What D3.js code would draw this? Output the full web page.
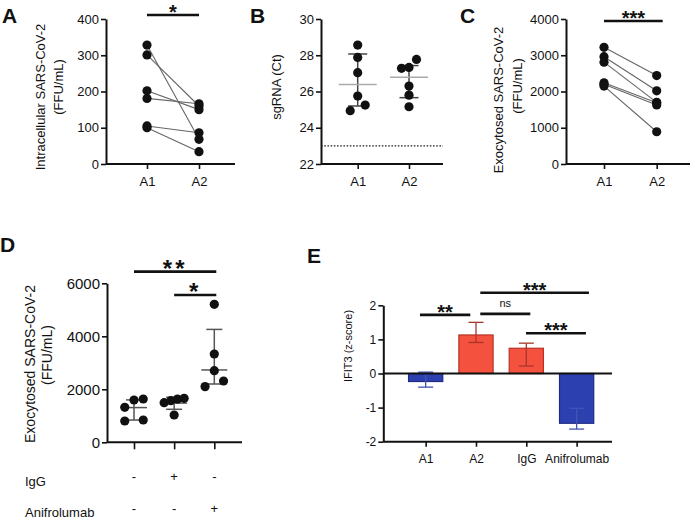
<!DOCTYPE html>
<html><head><meta charset="utf-8">
<script src="https://cdn.jsdelivr.net/npm/d3@7"></script>
<style>
body{margin:0;background:#fff}
svg{display:block}
text{font-family:"Liberation Sans",Arial,Helvetica,sans-serif;fill:#111}
</style>
</head><body>
<svg id="chart" width="693" height="519"></svg>
<script>
// ---------------- DATA ----------------
// Panel A – Intracellular SARS-CoV-2 (paired)
const aCats = ["A1", "A2"];
const aTicks = [0, 100, 200, 300, 400];
const aA1 = [328, 301, 202, 181, 105, 100];
const aA2 = [68, 160, 150, 166, 86, 34];
const aSig = [{from: "A1", to: "A2", level: 411, label: "*"}];

// Panel B – sgRNA (Ct)
const bCats = ["A1", "A2"];
const bTicks = [22, 24, 26, 28, 30];
const bA1 = [28.56, 27.88, 27.04, 25.75, 25.25, 24.94];
const bA2 = [27.77, 27.33, 27.28, 26.3, 25.8, 25.16];
const bMean = [26.38, 26.78];
const bLow = [25.2, 25.66];
const bHigh = [28.07, 27.43];
const bLimit = 23;

// Panel C – Exocytosed SARS-CoV-2 (paired)
const cCats = ["A1", "A2"];
const cTicks = [0, 1000, 2000, 3000, 4000];
const cA1 = [3220, 2960, 2810, 2240, 2200, 2150];
const cA2 = [2440, 2020, 1700, 1690, 1630, 890];
const cSig = [{from: "A1", to: "A2", level: 3945, label: "***"}];

// Panel D – Exocytosed SARS-CoV-2 with IgG / Anifrolumab
const dGroups = ["none", "IgG", "Anifrolumab"];
const dTicks = [0, 2000, 4000, 6000];
const dG1 = [1634, 1596, 1321, 842, 804];
const dG2 = [1660, 1630, 1570, 1494, 1030];
const dG3 = [5208, 3333, 2704, 2314, 2101];
const dMean = [1310, 1480, 2730];
const dLow = [840, 1245, 2200];
const dHigh = [1600, 1700, 4260];
const dIgG = ["-", "+", "-"];
const dAnif = ["-", "-", "+"];
const dSig = [
  {from: "none", to: "Anifrolumab", level: 6440, label: "**"},
  {from: "IgG", to: "Anifrolumab", level: 5560, label: "*"}
];

// Panel E – IFIT3 (z-score)
const eCats = ["A1", "A2", "IgG", "Anifrolumab"];
const eTicks = [-2, -1, 0, 1, 2];
const eMean = [-0.235, 1.13, 0.74, -1.46];
const eLow = [-0.40, 0.91, 0.22, -1.63];
const eHigh = [0.04, 1.50, 0.89, -1.02];
const eKind = ["down", "up", "up", "down"];
const eSig = [
  {from: "A1", to: "A2", level: 1.72, label: "**"},
  {from: "A2", to: "IgG", level: 1.75, label: "ns"},
  {from: "A2", to: "Anifrolumab", level: 2.37, label: "***"},
  {from: "IgG", to: "Anifrolumab", level: 1.18, label: "***"}
];

// ---------------- DRAWING ----------------
const svg = d3.select("#chart");
const FONT = '"Liberation Sans",Arial,Helvetica,sans-serif';

function styleAxis(g, fs) {
  g.selectAll(".domain").attr("stroke", "#111").attr("stroke-width", 2);
  g.selectAll(".tick line").attr("stroke", "#111").attr("stroke-width", 1.6);
  g.selectAll(".tick text").attr("font-size", fs).attr("fill", "#111").attr("font-family", FONT);
}

function yAxis(x0, y, ticks, fs, pad) {
  const g = svg.append("g").attr("transform", `translate(${x0},0)`)
    .call(d3.axisLeft(y).tickValues(ticks).tickSize(5).tickPadding(pad || 2)
      .tickSizeOuter(0).tickFormat(d => String(d)));
  styleAxis(g, fs);
  return g;
}

function xAxis(x, y0, xStart, xEnd, fs, showLabels, tickLen) {
  svg.append("line").attr("x1", xStart).attr("x2", xEnd).attr("y1", y0).attr("y2", y0)
    .attr("stroke", "#111").attr("stroke-width", 2);
  const g = svg.append("g").attr("transform", `translate(0,${y0})`)
    .call(d3.axisBottom(x).tickSize(tickLen || 5).tickPadding(8).tickSizeOuter(0));
  g.select(".domain").remove();
  styleAxis(g, fs);
  if (!showLabels) g.selectAll(".tick text").remove();
  return g;
}

function panelLetter(t, x, y) {
  svg.append("text").attr("x", x).attr("y", y).text(t)
    .attr("font-size", 21).attr("font-weight", "bold");
}

function yLabel(lines, fs) {
  lines.forEach(l => {
    svg.append("text").attr("transform", `translate(${l.x},${l.y}) rotate(-90)`)
      .attr("text-anchor", "middle").attr("font-size", fs).text(l.t);
  });
}

function sigBar(x, y, s, fs, x0off, x1off, textGap, weight, ls) {
  const xa = x(s.from) + (x0off || 0), xb = x(s.to) + (x1off || 0);
  const yy = y(s.level);
  svg.append("line").attr("x1", xa).attr("x2", xb).attr("y1", yy).attr("y2", yy)
    .attr("stroke", "#111").attr("stroke-width", 2.6);
  svg.append("text").attr("x", (xa + xb) / 2).attr("y", yy - textGap)
    .attr("text-anchor", "middle").attr("font-size", fs)
    .attr("font-weight", weight || "bold")
    .attr("letter-spacing", ls || 0)
    .text(s.label);
}

// beeswarm-like horizontal offsets for points that overlap vertically
function swarm(values, y, thr, span) {
  const idx = values.map((v, i) => i).sort((a, b) => values[a] - values[b]);
  const offs = new Array(values.length).fill(0);
  let cl = [idx[0]];
  const flush = () => {
    const k = cl.length;
    if (k > 1) cl.forEach((j, n) => offs[j] = (n / (k - 1) - 0.5) * span);
  };
  for (let n = 1; n < idx.length; n++) {
    const j = idx[n], p = idx[n - 1];
    if (Math.abs(y(values[j]) - y(values[p])) < thr) cl.push(j);
    else { flush(); cl = [j]; }
  }
  flush();
  return offs;
}

function dot(cx, cy, r) {
  svg.append("circle").attr("cx", cx).attr("cy", cy).attr("r", r || 4.6).attr("fill", "#111");
}

// ---------- Panel A ----------
(function () {
  const y = d3.scaleLinear().domain([0, 400]).range([164, 19]);
  const x = d3.scalePoint().domain(aCats).range([147, 199]);
  panelLetter("A", 2, 23);
  yLabel([{t: "Intracellular SARS-CoV-2", x: 45, y: 97}, {t: "(FFU/mL)", x: 63, y: 87}], 13);
  yAxis(106, y, aTicks, 13);
  xAxis(x, 164, 106, 235, 13, true);
  aA1.forEach((v, i) => {
    svg.append("line").attr("x1", x("A1")).attr("y1", y(v)).attr("x2", x("A2")).attr("y2", y(aA2[i]))
      .attr("stroke", "#666").attr("stroke-width", 1.1);
  });
  aA1.forEach(v => dot(x("A1"), y(v)));
  aA2.forEach(v => dot(x("A2"), y(v)));
  aSig.forEach(s => sigBar(x, y, s, 20, 0, 0, -4));
})();

// ---------- Panel B ----------
(function () {
  const y = d3.scaleLinear().domain([22, 30]).range([164, 19]);
  const x = d3.scalePoint().domain(bCats).range([357.7, 409]);
  panelLetter("B", 250, 23);
  yLabel([{t: "sgRNA (Ct)", x: 281, y: 87}], 13);
  yAxis(321, y, bTicks, 13);
  xAxis(x, 164, 321, 443, 13, true);
  svg.append("line").attr("x1", 321).attr("x2", 443).attr("y1", y(bLimit)).attr("y2", y(bLimit))
    .attr("stroke", "#222").attr("stroke-width", 1.2).attr("stroke-dasharray", "1.6,1.6");
  [bA1, bA2].forEach((vals, gi) => {
    const cx = x(bCats[gi]);
    svg.append("line").attr("x1", cx).attr("x2", cx).attr("y1", y(bLow[gi])).attr("y2", y(bHigh[gi]))
      .attr("stroke", "#444").attr("stroke-width", 1.5);
    [bLow[gi], bHigh[gi]].forEach(v => svg.append("line").attr("x1", cx - 9.5).attr("x2", cx + 9.5)
      .attr("y1", y(v)).attr("y2", y(v)).attr("stroke", "#444").attr("stroke-width", 1.5));
    svg.append("line").attr("x1", cx - 19).attr("x2", cx + 19).attr("y1", y(bMean[gi])).attr("y2", y(bMean[gi]))
      .attr("stroke", "#aaa").attr("stroke-width", 1.5);
    const offs = swarm(vals, y, 8.5, 15);
    vals.forEach((v, i) => dot(cx + offs[i], y(v)));
  });
})();

// ---------- Panel C ----------
(function () {
  const y = d3.scaleLinear().domain([0, 4000]).range([164, 19]);
  const x = d3.scalePoint().domain(cCats).range([604, 656.7]);
  panelLetter("C", 460, 23);
  yLabel([{t: "Exocytosed SARS-CoV-2", x: 503, y: 100}, {t: "(FFU/mL)", x: 521.5, y: 86}], 13);
  yAxis(566, y, cTicks, 13);
  xAxis(x, 164, 566, 690, 13, true);
  cA1.forEach((v, i) => {
    svg.append("line").attr("x1", x("A1")).attr("y1", y(v)).attr("x2", x("A2")).attr("y2", y(cA2[i]))
      .attr("stroke", "#666").attr("stroke-width", 1.1);
  });
  cA1.forEach(v => dot(x("A1"), y(v)));
  cA2.forEach(v => dot(x("A2"), y(v)));
  cSig.forEach(s => sigBar(x, y, s, 20, 0, 6, -4));
})();

// ---------- Panel D ----------
(function () {
  const y = d3.scaleLinear().domain([0, 6000]).range([442.3, 283.3]);
  const x = d3.scalePoint().domain(dGroups).range([134, 214.3]);
  panelLetter("D", 0, 252);
  yLabel([{t: "Exocytosed SARS-CoV-2", x: 35, y: 364}, {t: "(FFU/mL)", x: 52, y: 355}], 14);
  yAxis(107, y, dTicks, 15);
  xAxis(x, 442.3, 107, 242, 13, false, 7);
  [dG1, dG2, dG3].forEach((vals, gi) => {
    const cx = x(dGroups[gi]);
    svg.append("line").attr("x1", cx).attr("x2", cx).attr("y1", y(dLow[gi])).attr("y2", y(dHigh[gi]))
      .attr("stroke", "#555").attr("stroke-width", 1.5);
    [dLow[gi], dHigh[gi]].forEach(v => svg.append("line").attr("x1", cx - 8).attr("x2", cx + 8)
      .attr("y1", y(v)).attr("y2", y(v)).attr("stroke", "#555").attr("stroke-width", 1.5));
    svg.append("line").attr("x1", cx - 13).attr("x2", cx + 13).attr("y1", y(dMean[gi])).attr("y2", y(dMean[gi]))
      .attr("stroke", "#555").attr("stroke-width", 1.5);
    const offs = swarm(vals, y, 8, gi === 1 ? 20 : 18.5);
    vals.forEach((v, i) => dot(cx + offs[i], y(v)));
  });
  // treatment rows
  svg.append("text").attr("x", 25).attr("y", 486).attr("font-size", 13).text("IgG");
  svg.append("text").attr("x", 25).attr("y", 517).attr("font-size", 13).text("Anifrolumab");
  dIgG.forEach((s, i) => svg.append("text").attr("x", x(dGroups[i])).attr("y", 481)
    .attr("text-anchor", "middle").attr("font-size", 13).text(s));
  dAnif.forEach((s, i) => svg.append("text").attr("x", x(dGroups[i])).attr("y", 512.5)
    .attr("text-anchor", "middle").attr("font-size", 13).text(s));
  sigBar(x, y, dSig[0], 24, 0, 2, -5, "bold", 3);
  sigBar(x, y, dSig[1], 24, 0, 2, -5, "bold", 3);
})();

// ---------- Panel E ----------
(function () {
  const y = d3.scaleLinear().domain([-2, 2]).range([441.7, 305.3]);
  const x = d3.scaleBand().domain(eCats).range([400.5, 601.8]).paddingInner(0.32).paddingOuter(0.16);
  const xc = c => x(c) + x.bandwidth() / 2;
  const fill = {up: "#f4513f", down: "#2d40b0"};
  const edge = {up: "#b83224", down: "#1f2b85"};
  const err = {up: "#a8362a", down: "#4353b5"};
  panelLetter("E", 307, 263);
  yLabel([{t: "IFIT3 (z-score)", x: 352, y: 346}], 11);
  yAxis(383.3, y, eTicks, 12);
  eCats.forEach((c, i) => {
    const v = eMean[i];
    svg.append("rect").attr("x", x(c)).attr("width", x.bandwidth())
      .attr("y", Math.min(y(0), y(v))).attr("height", Math.abs(y(v) - y(0)))
      .attr("fill", fill[eKind[i]]).attr("stroke", edge[eKind[i]]).attr("stroke-width", 1.2);
  });
  eCats.forEach((c, i) => {
    const cx = xc(c), col = err[eKind[i]];
    svg.append("line").attr("x1", cx).attr("x2", cx).attr("y1", y(eLow[i])).attr("y2", y(eHigh[i]))
      .attr("stroke", col).attr("stroke-width", 1.3);
    [eLow[i], eHigh[i]].forEach(v => svg.append("line").attr("x1", cx - 7.5).attr("x2", cx + 7.5)
      .attr("y1", y(v)).attr("y2", y(v)).attr("stroke", col).attr("stroke-width", 1.3));
  });
  svg.append("line").attr("x1", 383.3).attr("x2", 612).attr("y1", y(0)).attr("y2", y(0))
    .attr("stroke", "#111").attr("stroke-width", 2.2);
  const xp = d3.scalePoint().domain(eCats).range([xc(eCats[0]), xc(eCats[3])]);
  xAxis(xp, 441.7, 383.3, 612, 12, true);
  const shifts = [[-5.7, -5.7], [4.3, 4], [4.3, 12.3], [-0.3, 9.3]];
  eSig.forEach((s, i) => {
    if (s.label === "ns") sigBar(xp, y, s, 11, shifts[i][0], shifts[i][1], 7, "normal");
    else sigBar(xp, y, s, 20, shifts[i][0], shifts[i][1], -4);
  });
})();
</script>
</body></html>
